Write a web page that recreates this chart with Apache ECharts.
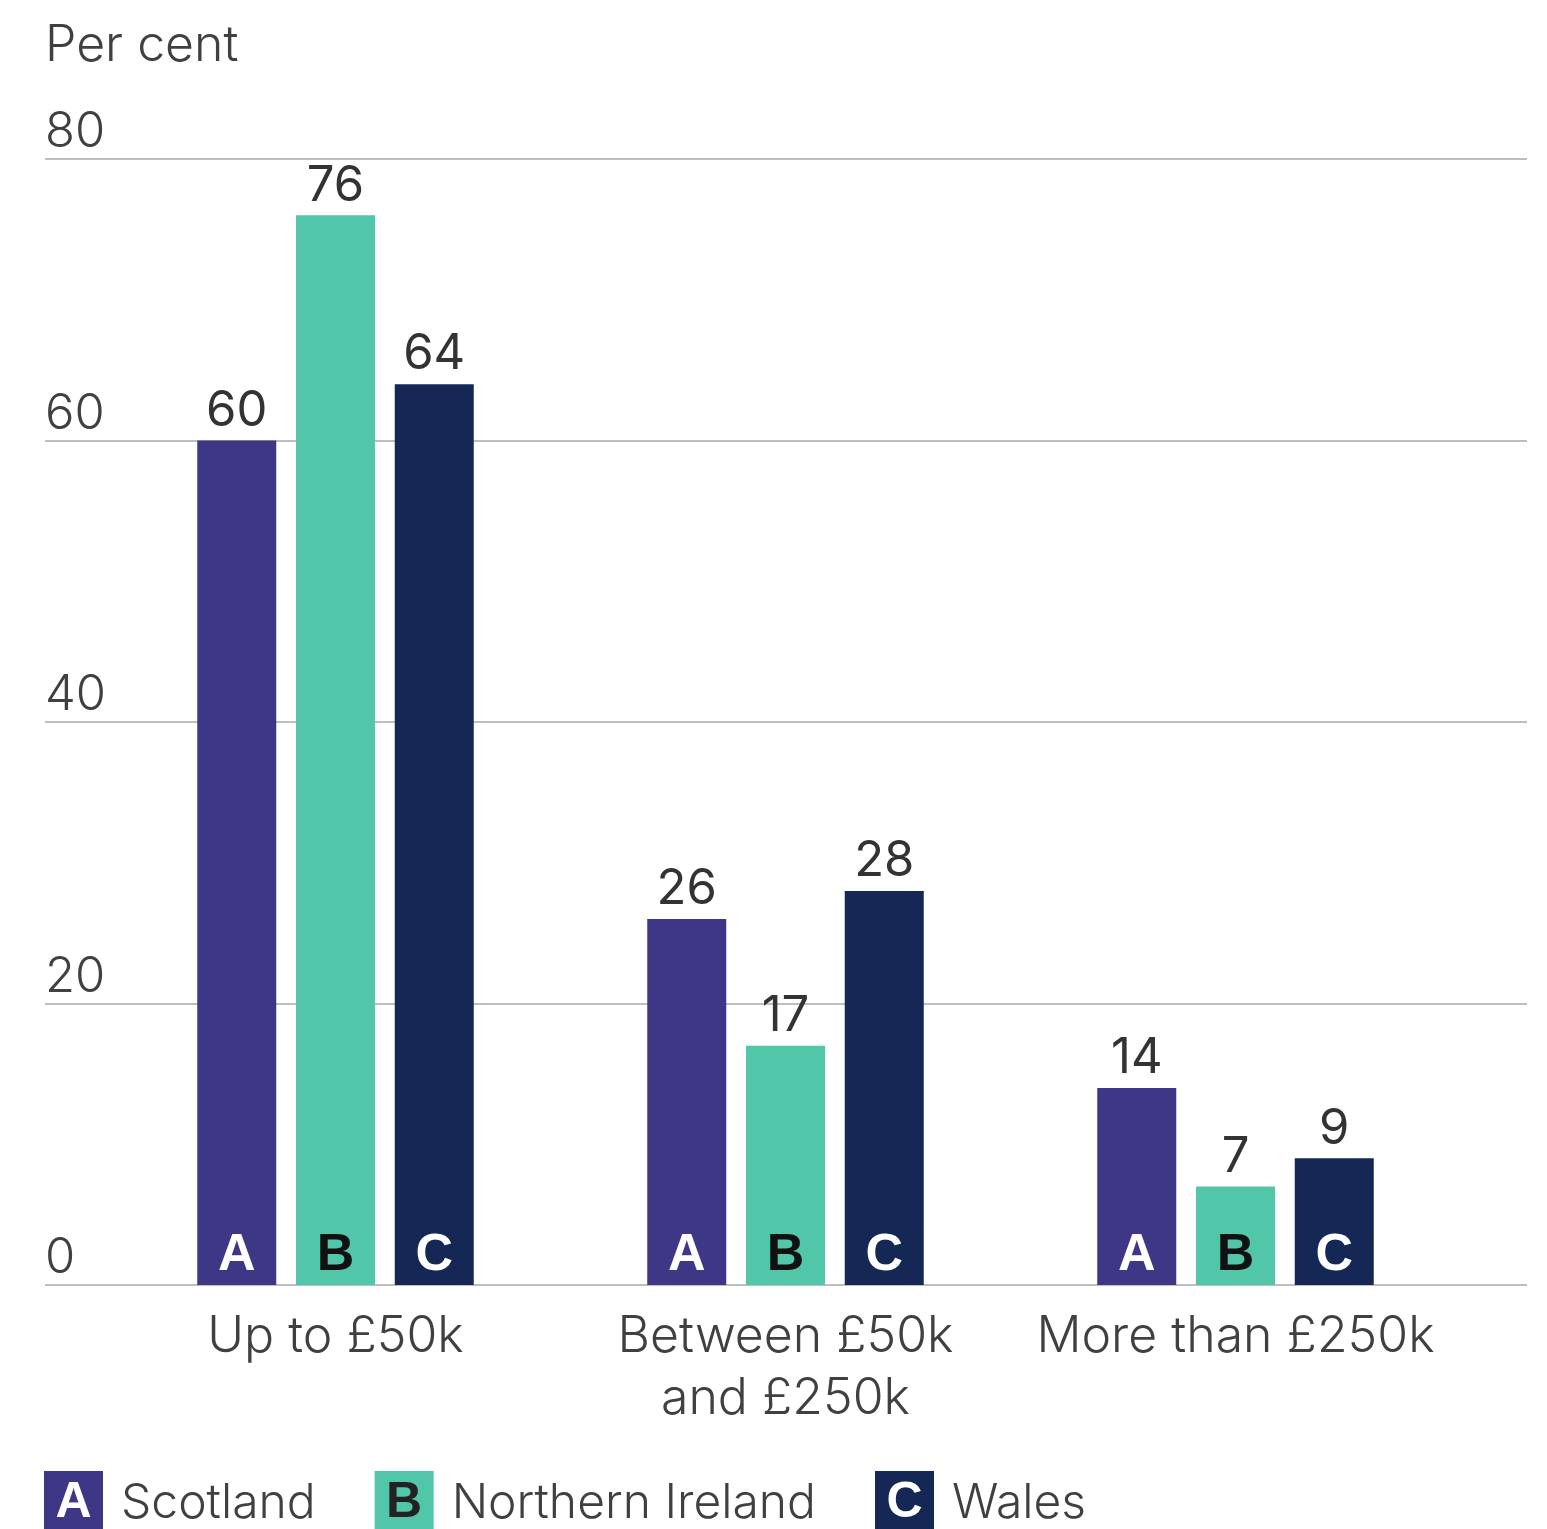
<!DOCTYPE html>
<html>
<head>
<meta charset="utf-8">
<title>Per cent by amount</title>
<script src="https://cdn.jsdelivr.net/npm/echarts@6/dist/echarts.min.js"></script>
<style>
  html, body { margin: 0; padding: 0; background: #fff; }
  #chart { width: 1547px; height: 1529px; }
</style>
</head>
<body>
<div id="chart"></div>
<script>
// Categories and values (per cent)
const categories = ['Up to £50k', 'Between £50k\nand £250k', 'More than £250k'];
const seriesNames = ['Scotland', 'Northern Ireland', 'Wales'];
const seriesCodes = ['A', 'B', 'C'];
const scotland = [60, 26, 14];
const northernIreland = [76, 17, 7];
const wales = [64, 28, 9];
const yTicks = [0, 20, 40, 60, 80];

const seriesValues = [scotland, northernIreland, wales];
const colors = ['#3d3785', '#52c6a8', '#152754'];
const codeColors = ['#ffffff', '#111111', '#ffffff'];
const legendCodeColors = ['#ffffff', '#222222', '#ffffff'];

const FONT = 'Inter, Roboto, "Noto Sans", sans-serif';
const BOLD_FONT = '"Liberation Sans", Arial, sans-serif';
const TEXT = '#404040';

const chart = echarts.init(document.getElementById('chart'), null, { renderer: 'canvas' });

const plotTop = 159, plotBottom = 244;
const barWidth = 79;
const barGap = '25%';

const mainSeries = seriesValues.map((vals, i) => ({
  name: seriesNames[i],
  type: 'bar',
  xAxisIndex: 1,
  yAxisIndex: 1,
  data: vals,
  barWidth: barWidth,
  barGap: barGap,
  itemStyle: { color: colors[i] },
  label: {
    show: true,
    position: 'top',
    distance: 5,
    fontFamily: FONT,
    fontSize: 49,
    lineHeight: 49,
    fontWeight: 'normal',
    color: '#333333'
  },
  emphasis: { disabled: true }
}));

// Letter code drawn at the foot of each bar
const codeSeries = seriesValues.map((vals, i) => ({
  name: seriesNames[i] + ' code',
  type: 'bar',
  xAxisIndex: 2,
  yAxisIndex: 2,
  data: vals,
  barWidth: barWidth,
  barGap: barGap,
  itemStyle: { color: 'rgba(0,0,0,0)' },
  label: {
    show: true,
    position: 'insideBottom',
    distance: 3,
    formatter: seriesCodes[i],
    fontFamily: BOLD_FONT,
    fontSize: 52,
    lineHeight: 52,
    fontWeight: 'bold',
    color: codeColors[i]
  },
  silent: true,
  emphasis: { disabled: true }
}));

const legendRich = {
  t: { fontFamily: FONT, fontSize: 48, fontWeight: 300, color: TEXT, padding: [4, 0, 0, 18] }
};
seriesCodes.forEach((c, i) => {
  legendRich['box' + c] = {
    width: 59, height: 57, lineHeight: 57, align: 'center',
    padding: [4, 0, 0, 0],
    backgroundColor: colors[i], color: legendCodeColors[i],
    fontFamily: BOLD_FONT, fontSize: 50, fontWeight: 'bold'
  };
});

const hiddenCat = (gridIndex) => ({
  type: 'category', gridIndex: gridIndex, data: categories,
  axisLine: { show: false }, axisTick: { show: false },
  axisLabel: { show: false }, splitLine: { show: false }
});
const hiddenVal = (gridIndex) => ({
  type: 'value', gridIndex: gridIndex, min: 0, max: 80, interval: 20,
  axisLine: { show: false }, axisTick: { show: false },
  axisLabel: { show: false }, splitLine: { show: false }
});

chart.setOption({
  animation: false,
  backgroundColor: '#ffffff',
  title: {
    text: 'Per cent',
    left: 45, top: 21, padding: 0,
    textStyle: { fontFamily: FONT, fontSize: 50, lineHeight: 50, fontWeight: 300, color: TEXT }
  },
  legend: {
    data: seriesNames,
    left: 39, top: 1471, padding: 0,
    itemWidth: 0, itemHeight: 0, itemGap: 54,
    icon: 'rect',
    itemStyle: { opacity: 0 },
    selectedMode: false,
    formatter: (name) => {
      const i = seriesNames.indexOf(name);
      return '{box' + seriesCodes[i] + '|' + seriesCodes[i] + '}{t|' + name + '}';
    },
    textStyle: { rich: legendRich }
  },
  grid: [
    // full-width grid carrying the value axis and gridlines
    { left: 45, right: 20, top: plotTop, bottom: plotBottom },
    // grids carrying the bars and category labels
    { left: 110.5, width: 1350, top: plotTop, bottom: plotBottom },
    { left: 110.5, width: 1350, top: plotTop, bottom: plotBottom }
  ],
  xAxis: [
    hiddenCat(0),
    {
      type: 'category', gridIndex: 1, data: categories,
      axisLine: { show: false }, axisTick: { show: false },
      axisLabel: {
        margin: 21,
        fontFamily: FONT, fontSize: 50, lineHeight: 62, fontWeight: 300,
        color: TEXT, interval: 0
      }
    },
    hiddenCat(2)
  ],
  yAxis: [
    {
      type: 'value', gridIndex: 0, min: 0, max: 80, interval: 20,
      axisLine: { show: false }, axisTick: { show: false },
      axisLabel: {
        inside: true, margin: 0,
        verticalAlign: 'bottom', align: 'left',
        padding: [0, 0, 2, 0],
        fontFamily: FONT, fontSize: 49, lineHeight: 49, fontWeight: 300,
        color: TEXT,
        formatter: (v) => (yTicks.indexOf(v) >= 0 ? String(v) : '')
      },
      splitLine: { show: true, lineStyle: { color: '#a8a8a8', width: 1.5 } }
    },
    hiddenVal(1),
    hiddenVal(2)
  ],
  series: mainSeries.concat(codeSeries)
});
</script>
</body>
</html>
